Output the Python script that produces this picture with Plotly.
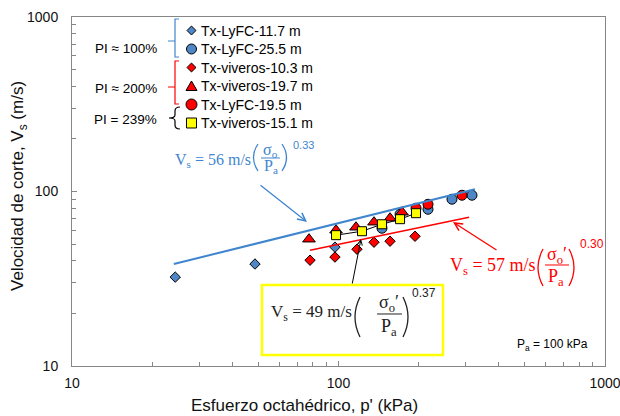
import plotly.graph_objects as go

# ---------------- data ----------------
p_lyfc_117 = [24.4, 48.6, 97.0]
vs_lyfc_117 = [32.3, 38.4, 48.0]

p_lyfc_255 = [145.6, 170.2, 216.7, 266.6, 316.9]
vs_lyfc_255 = [61.6, 74.1, 79.1, 90.3, 95.2]

p_viv_103 = [78.2, 97.0, 117.3, 135.9, 156.1, 193.7]
vs_viv_103 = [40.4, 42.1, 46.7, 51.2, 51.9, 55.4]

p_viv_197 = [77.5, 97.9, 116.3, 135.9, 156.1, 173.1]
vs_viv_197 = [53.3, 60.0, 62.4, 66.7, 70.3, 76.1]

p_lyfc_195 = [195.4, 216.7, 290.7]
vs_lyfc_195 = [80.2, 84.5, 95.2]

p_viv_151 = [97.9, 122.5, 145.6, 170.2, 195.4]
vs_viv_151 = [56.2, 59.2, 64.9, 69.4, 75.1]

fit_blue_p = [24.1, 325.0]
fit_blue_vs = [38.4, 103.0]
fit_red_p = [78.2, 309.0]
fit_red_vs = [46.1, 71.2]

x_ticks = [10, 100, 1000]
y_ticks = [10, 100, 1000]
minor_ticks = [20, 30, 40, 50, 60, 70, 80, 90, 200, 300, 400, 500, 600, 700, 800, 900]

legend_names = ["Tx-LyFC-11.7 m", "Tx-LyFC-25.5 m", "Tx-viveros-10.3 m",
                "Tx-viveros-19.7 m", "Tx-LyFC-19.5 m", "Tx-viveros-15.1 m"]

# ---------------- style ----------------
BLUE_M = "#4F86C6"
BLUE_L = "#3F86CF"
RED = "#FF0000"
YEL = "#FFFF00"
AXC = "#868686"
SANS = "Liberation Sans, Arial, sans-serif"
SERIF = "Liberation Serif, Times New Roman, serif"

W, H = 620, 416
L, R, T, B = 72, 605, 17, 366


def PX(px):
    return (px - L) / (R - L)


def PY(py):
    return (B - py) / (B - T)


def pt(px, py):
    return f"{PX(px):.5f},{PY(py):.5f}"


fig = go.Figure()

mk = dict(line=dict(color="black", width=1))
fig.add_trace(go.Scatter(x=p_lyfc_117, y=vs_lyfc_117, mode="markers", name=legend_names[0],
                         marker=dict(symbol="diamond", size=8, color=BLUE_M, **mk)))
fig.add_trace(go.Scatter(x=p_lyfc_255, y=vs_lyfc_255, mode="markers", name=legend_names[1],
                         marker=dict(symbol="circle", size=10, color=BLUE_M, **mk)))
fig.add_trace(go.Scatter(x=p_viv_103, y=vs_viv_103, mode="markers", name=legend_names[2],
                         marker=dict(symbol="diamond", size=8, color=RED, **mk)))
fig.add_trace(go.Scatter(x=p_viv_197, y=vs_viv_197, mode="markers", name=legend_names[3],
                         marker=dict(symbol="triangle-up", size=11, color=RED, **mk)))
fig.add_trace(go.Scatter(x=p_lyfc_195, y=vs_lyfc_195, mode="markers", name=legend_names[4],
                         marker=dict(symbol="circle", size=10, color=RED, **mk)))
fig.add_trace(go.Scatter(x=p_viv_151, y=vs_viv_151, mode="lines+markers", name=legend_names[5],
                         line=dict(color="black", width=1),
                         marker=dict(symbol="square", size=9, color=YEL, **mk)))
fig.add_trace(go.Scatter(x=fit_blue_p, y=fit_blue_vs, mode="lines",
                         line=dict(color=BLUE_L, width=2)))
fig.add_trace(go.Scatter(x=fit_red_p, y=fit_red_vs, mode="lines",
                         line=dict(color=RED, width=1.5)))

shapes = []
ann = []


def text(px, py, s, size=14, color="black", family=SANS, xa="center", ya="middle", angle=0):
    ann.append(dict(x=PX(px), y=PY(py), xref="paper", yref="paper", text=s, showarrow=False,
                    xanchor=xa, yanchor=ya, textangle=angle,
                    font=dict(size=size, color=color, family=family)))


def path(d, color, width=1, fill=None):
    s = dict(type="path", path=d, xref="paper", yref="paper",
             line=dict(color=color, width=width))
    if fill:
        s["fillcolor"] = fill
    shapes.append(s)


def arrow(hx, hy, tx, ty, color, head=5, width=1.3, size=1.2):
    ann.append(dict(x=PX(hx), y=PY(hy), xref="paper", yref="paper",
                    ax=tx - hx, ay=ty - hy, text="", showarrow=True,
                    arrowhead=head, arrowsize=size, arrowwidth=width, arrowcolor=color))


# ---------------- legend (custom) ----------------
rows = [30.5, 49, 67.5, 86, 104.5, 123]
mx = 191.5
r = 4.5
y0 = rows[0]
path(f"M{pt(mx, y0 - r)} L{pt(mx + r, y0)} L{pt(mx, y0 + r)} L{pt(mx - r, y0)} Z", "black", 1, BLUE_M)
y0 = rows[1]
shapes.append(dict(type="circle", xref="paper", yref="paper", x0=PX(mx - 5), x1=PX(mx + 5),
                   y0=PY(y0 + 5), y1=PY(y0 - 5), line=dict(color="black", width=1), fillcolor=BLUE_M))
y0 = rows[2]
path(f"M{pt(mx, y0 - r)} L{pt(mx + r, y0)} L{pt(mx, y0 + r)} L{pt(mx - r, y0)} Z", "black", 1, RED)
y0 = rows[3]
path(f"M{pt(mx, y0 - 5)} L{pt(mx + 5.5, y0 + 4.5)} L{pt(mx - 5.5, y0 + 4.5)} Z", "black", 1, RED)
y0 = rows[4]
shapes.append(dict(type="circle", xref="paper", yref="paper", x0=PX(mx - 5.5), x1=PX(mx + 5.5),
                   y0=PY(y0 + 5.5), y1=PY(y0 - 5.5), line=dict(color="black", width=1), fillcolor=RED))
y0 = rows[5]
path(f"M{pt(mx - 5, y0 - 5)} L{pt(mx + 5, y0 - 5)} L{pt(mx + 5, y0 + 5)} L{pt(mx - 5, y0 + 5)} Z", "black", 1, YEL)

for name, yy in zip(legend_names, rows):
    text(199, yy, name, 14, "black", SANS, xa="left")

# brackets
path(f"M{pt(179, 19)} L{pt(175, 19)} L{pt(175, 57)} L{pt(179, 57)} M{pt(175, 41)} L{pt(168, 41)}", BLUE_L, 1.2)
path(f"M{pt(179, 61)} L{pt(175, 61)} L{pt(175, 104)} L{pt(179, 104)} M{pt(175, 87)} L{pt(168, 87)}", RED, 1.2)
path(f"M{pt(180, 107)} Q{pt(175, 107)} {pt(175, 111)} L{pt(175, 115)} Q{pt(175, 118)} {pt(169, 118)} "
     f"Q{pt(175, 118)} {pt(175, 121)} L{pt(175, 125)} Q{pt(175, 129)} {pt(180, 129)}", "black", 1.2)

text(159, 48, "PI ≈ 100%", 13.5, "black", SANS, xa="right")
text(159, 88, "PI ≈ 200%", 13.5, "black", SANS, xa="right")
text(159, 120, "PI = 239%", 13.5, "black", SANS, xa="right")


# ---------------- equations ----------------
def paren(x_out, x_in, ytop, ybot, color, width=1.3):
    ym = (ytop + ybot) / 2
    path(f"M{pt(x_out, ytop)} Q{pt(x_in, ym)} {pt(x_out, ybot)}", color, width)


# blue
text(173, 161, "V<sub>s</sub> = 56 m/s", 16, BLUE_L, SERIF, xa="left")
paren(258, 249, 144, 171, BLUE_L)
text(270, 150, "σ<sub>o</sub>", 16, BLUE_L, SERIF)
path(f"M{pt(261, 158)} L{pt(280, 158)}", BLUE_L, 1)
text(271, 166, "P<sub>a</sub>", 16, BLUE_L, SERIF)
paren(282, 291, 144, 171, BLUE_L)
text(303, 145, "0.33", 11, BLUE_L, SANS)

# red
text(448, 266, "V<sub>s</sub> = 57 m/s", 18, RED, SERIF, xa="left")
paren(543, 533, 249, 286, RED)
text(557, 255, "σ<sub>o</sub>′", 18, RED, SERIF)
path(f"M{pt(545, 265)} L{pt(569, 265)}", RED, 1)
text(556, 277, "P<sub>a</sub>", 18, RED, SERIF)
paren(569, 579, 249, 286, RED)
text(592, 244, "0.30", 12, RED, SANS)

# black boxed
shapes.append(dict(type="rect", xref="paper", yref="paper", x0=PX(262), x1=PX(443),
                   y0=PY(355), y1=PY(285), line=dict(color=YEL, width=2.5), fillcolor="white"))
text(269, 313, "V<sub>s</sub> = 49 m/s", 17, "#222222", SERIF, xa="left")
paren(360, 350, 297, 337, "#222222")
text(389, 303, "σ<sub>o</sub>′", 18, "#222222", SERIF)
path(f"M{pt(377, 314)} L{pt(402, 314)}", "#222222", 1)
text(389, 327, "P<sub>a</sub>", 18, "#222222", SERIF)
paren(403, 413, 297, 337, "#222222")
text(424, 293, "0.37", 12, "#222222", SANS)

# arrows / leader lines
arrow(307, 222, 259, 184, BLUE_L)
arrow(453, 222, 498, 251, RED)
arrow(361, 239, 352, 285, "black", head=5, width=1, size=1)

# Pa note
text(515, 345, "P<sub>a</sub> = 100 kPa", 12, "black", SANS, xa="left")

# axis titles
text(304, 405, "Esfuerzo octahédrico, p' (kPa)", 17, "#111111", SANS)
text(19, 186, "Velocidad de corte, V<sub>s</sub> (m/s)", 17, "#111111", SANS, angle=-90)

axis_common = dict(type="log", showgrid=False, zeroline=False, showline=True, linecolor=AXC,
                   linewidth=1, mirror=True, ticks="inside", ticklen=5, tickcolor=AXC,
                   tickfont=dict(family=SANS, size=14, color="#111111"),
                   ticklabeloverflow="allow", automargin=False,
                   minor=dict(ticks="inside", ticklen=4, tickcolor=AXC, tickvals=minor_ticks,
                              showgrid=False))

fig.update_xaxes(range=[0.99999, 3.00001], tickvals=x_ticks, ticktext=[str(v) for v in x_ticks],
                 ticklabelstandoff=4, **axis_common)
fig.update_yaxes(range=[0.99999, 3.00001], tickvals=y_ticks, ticktext=[str(v) for v in y_ticks],
                 ticklabelstandoff=10, **axis_common)

fig.update_layout(width=W, height=H, margin=dict(l=L, r=W - R, t=T, b=H - B, autoexpand=False),
                  paper_bgcolor="white", plot_bgcolor="white", showlegend=False,
                  shapes=shapes, annotations=ann)

fig.write_html("out.html", config={"displayModeBar": False},
               post_script="document.body.style.margin='0';")
